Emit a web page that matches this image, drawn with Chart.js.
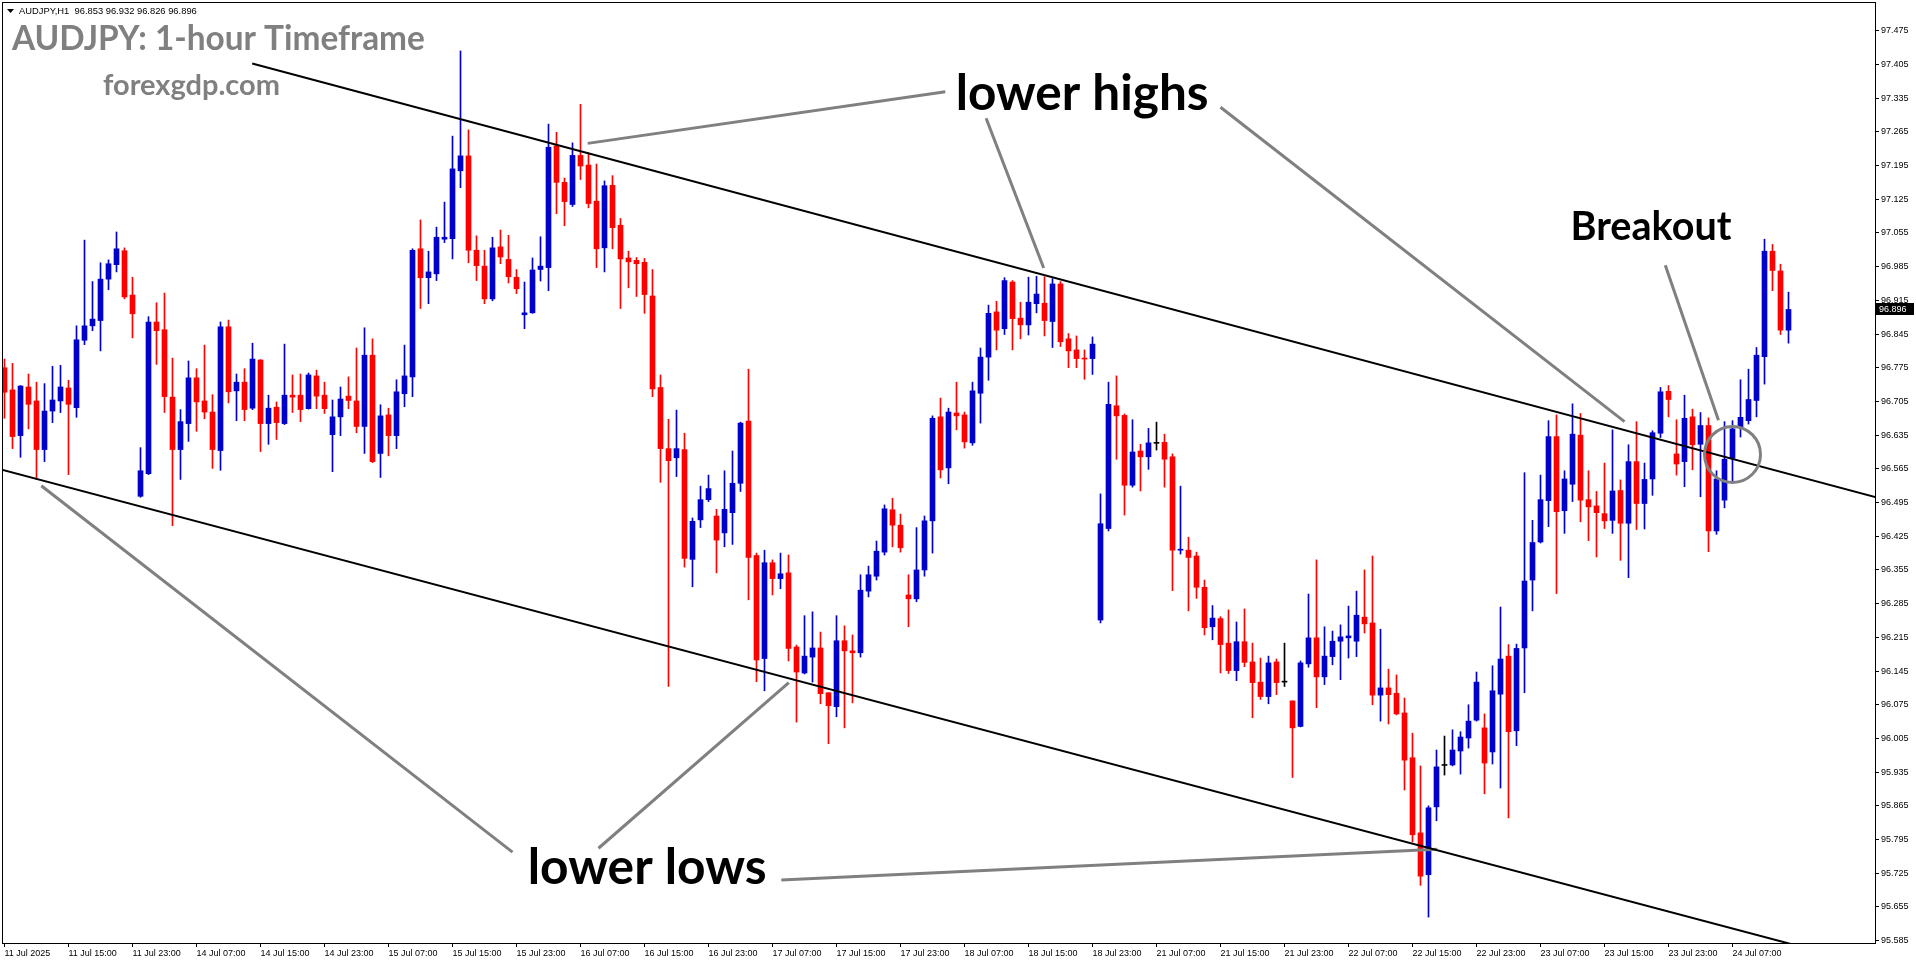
<!DOCTYPE html>
<html>
<head>
<meta charset="utf-8">
<title>AUDJPY H1</title>
<script src="https://cdn.jsdelivr.net/npm/chart.js@4.4.1/dist/chart.umd.min.js"></script>
<style>
  html, body { margin: 0; padding: 0; background: #fff; overflow: hidden; }
  #wrap { width: 1916px; height: 964px; }
</style>
</head>
<body>
<div id="wrap"><canvas id="fxChart" width="1916" height="964"></canvas></div>
<script>
// AUDJPY H1 candles, 11 Jul 07:00 -> 24 Jul 14:00 (one entry per hourly bar)

const timeLabels = [
  '11 Jul 2025', '11 Jul 15:00', '11 Jul 23:00', '14 Jul 07:00', '14 Jul 15:00', '14 Jul 23:00',
  '15 Jul 07:00', '15 Jul 15:00', '15 Jul 23:00', '16 Jul 07:00', '16 Jul 15:00', '16 Jul 23:00',
  '17 Jul 07:00', '17 Jul 15:00', '17 Jul 23:00', '18 Jul 07:00', '18 Jul 15:00', '18 Jul 23:00',
  '21 Jul 07:00', '21 Jul 15:00', '21 Jul 23:00', '22 Jul 07:00', '22 Jul 15:00', '22 Jul 23:00',
  '23 Jul 07:00', '23 Jul 15:00', '23 Jul 23:00', '24 Jul 07:00'
];
const barsPerLabel = 8;

const priceTicks = [
  97.475, 97.405, 97.335, 97.265, 97.195, 97.125, 97.055, 96.985, 96.915, 96.845,
  96.775, 96.705, 96.635, 96.565, 96.495, 96.425, 96.355, 96.285, 96.215, 96.145,
  96.075, 96.005, 95.935, 95.865, 95.795, 95.725, 95.655, 95.585
];

const opens = [
  96.775, 96.729, 96.634, 96.735, 96.706, 96.605, 96.685, 96.706, 96.733, 96.692,
  96.832, 96.862, 96.873, 96.959, 96.989, 97.018, 96.926, 96.508, 96.555, 96.870,
  96.854, 96.714, 96.605, 96.659, 96.754, 96.706, 96.683, 96.603, 96.860, 96.727,
  96.745, 96.691, 96.791, 96.659, 96.693, 96.659, 96.718, 96.718, 96.690, 96.758,
  96.718, 96.636, 96.673, 96.716, 96.706, 96.653, 96.801, 96.597, 96.677, 96.634,
  96.721, 96.756, 97.022, 96.962, 96.970, 97.042, 97.043, 97.184, 97.215, 97.019,
  96.986, 96.918, 97.026, 97.000, 96.963, 96.885, 96.889, 96.979, 96.983, 97.236,
  97.160, 97.114, 97.216, 97.196, 97.121, 97.024, 97.154, 97.071, 97.003, 96.998,
  96.994, 96.924, 96.734, 96.607, 96.588, 96.605, 96.377, 96.459, 96.501, 96.467,
  96.432, 96.474, 96.535, 96.664, 96.385, 96.171, 96.370, 96.337, 96.349, 96.195,
  96.141, 96.174, 96.193, 96.100, 96.071, 96.208, 96.187, 96.183, 96.311, 96.342,
  96.392, 96.480, 96.448, 96.303, 96.295, 96.355, 96.457, 96.673, 96.567, 96.681,
  96.677, 96.619, 96.722, 96.797, 96.891, 96.856, 96.953, 96.878, 96.864, 96.908,
  96.909, 96.871, 96.949, 96.835, 96.812, 96.795, 96.794, 96.251, 96.441, 96.696,
  96.676, 96.531, 96.602, 96.590, 96.618, 96.620, 96.590, 96.396, 96.396, 96.384,
  96.319, 96.237, 96.254, 96.203, 96.146, 96.206, 96.164, 96.122, 96.092, 96.164,
  96.122, 96.083, 96.030, 96.160, 96.214, 96.133, 96.175, 96.207, 96.214, 96.207,
  96.257, 96.245, 96.095, 96.110, 96.099, 96.058, 95.965, 95.809, 95.722, 95.863,
  95.949, 95.950, 95.979, 96.006, 96.043, 96.027, 95.977, 96.097, 96.176, 96.021,
  96.193, 96.334, 96.413, 96.499, 96.632, 96.478, 96.533, 96.635, 96.501, 96.488,
  96.472, 96.458, 96.520, 96.452, 96.580, 96.493, 96.544, 96.639, 96.726, 96.596,
  96.580, 96.673, 96.616, 96.655, 96.436, 96.500, 96.587, 96.651, 96.665, 96.707,
  96.798, 97.017, 96.976, 96.853
];

const highs = [
  96.793, 96.784, 96.738, 96.762, 96.745, 96.742, 96.778, 96.780, 96.749, 96.862,
  97.040, 96.954, 96.993, 96.999, 97.057, 97.024, 96.963, 96.609, 96.881, 96.910,
  96.930, 96.795, 96.688, 96.789, 96.773, 96.822, 96.719, 96.870, 96.874, 96.762,
  96.773, 96.826, 96.792, 96.718, 96.704, 96.824, 96.760, 96.762, 96.764, 96.770,
  96.745, 96.708, 96.735, 96.756, 96.816, 96.858, 96.835, 96.698, 96.691, 96.750,
  96.822, 97.022, 97.082, 97.017, 97.067, 97.119, 97.256, 97.433, 97.269, 97.049,
  97.019, 97.046, 97.061, 97.050, 96.979, 96.953, 97.003, 97.047, 97.281, 97.264,
  97.169, 97.242, 97.322, 97.221, 97.198, 97.163, 97.174, 97.085, 97.017, 97.004,
  97.002, 96.979, 96.760, 96.668, 96.687, 96.639, 96.463, 96.529, 96.552, 96.481,
  96.561, 96.602, 96.662, 96.772, 96.390, 96.396, 96.376, 96.390, 96.386, 96.199,
  96.260, 96.268, 96.226, 96.100, 96.260, 96.239, 96.220, 96.345, 96.363, 96.415,
  96.490, 96.504, 96.471, 96.345, 96.443, 96.467, 96.675, 96.712, 96.691, 96.745,
  96.683, 96.745, 96.816, 96.905, 96.913, 96.962, 96.956, 96.911, 96.963, 96.965,
  96.964, 96.960, 96.954, 96.846, 96.841, 96.812, 96.839, 96.513, 96.745, 96.758,
  96.679, 96.667, 96.616, 96.649, 96.662, 96.637, 96.596, 96.529, 96.423, 96.392,
  96.334, 96.281, 96.258, 96.272, 96.247, 96.274, 96.203, 96.172, 96.176, 96.170,
  96.203, 96.083, 96.166, 96.305, 96.376, 96.237, 96.228, 96.241, 96.280, 96.311,
  96.355, 96.384, 96.232, 96.149, 96.137, 96.089, 96.016, 95.948, 95.865, 95.981,
  96.010, 96.023, 96.019, 96.075, 96.143, 96.056, 96.156, 96.278, 96.200, 96.201,
  96.557, 96.458, 96.552, 96.665, 96.677, 96.561, 96.700, 96.680, 96.561, 96.518,
  96.577, 96.646, 96.542, 96.615, 96.663, 96.577, 96.644, 96.734, 96.738, 96.667,
  96.718, 96.689, 96.682, 96.671, 96.561, 96.663, 96.665, 96.750, 96.772, 96.817,
  97.042, 97.031, 96.990, 96.932
];

const lows = [
  96.670, 96.607, 96.589, 96.648, 96.543, 96.580, 96.661, 96.682, 96.553, 96.672,
  96.823, 96.852, 96.810, 96.937, 96.974, 96.918, 96.837, 96.506, 96.553, 96.782,
  96.682, 96.447, 96.543, 96.622, 96.643, 96.669, 96.566, 96.562, 96.702, 96.665,
  96.665, 96.688, 96.601, 96.616, 96.626, 96.657, 96.682, 96.663, 96.689, 96.690,
  96.680, 96.559, 96.634, 96.690, 96.640, 96.597, 96.578, 96.547, 96.592, 96.607,
  96.694, 96.715, 96.898, 96.908, 96.956, 97.035, 97.001, 97.149, 96.993, 96.956,
  96.908, 96.914, 96.991, 96.951, 96.929, 96.856, 96.888, 96.955, 96.935, 97.095,
  97.070, 97.110, 97.166, 97.107, 96.983, 96.974, 97.022, 96.898, 96.941, 96.923,
  96.888, 96.715, 96.537, 96.113, 96.549, 96.361, 96.320, 96.443, 96.497, 96.349,
  96.403, 96.408, 96.518, 96.293, 96.123, 96.104, 96.303, 96.316, 96.166, 96.039,
  96.139, 96.122, 96.077, 95.994, 96.050, 96.027, 96.079, 96.174, 96.299, 96.334,
  96.386, 96.403, 96.392, 96.237, 96.289, 96.342, 96.390, 96.546, 96.534, 96.646,
  96.608, 96.614, 96.660, 96.749, 96.812, 96.844, 96.812, 96.835, 96.843, 96.889,
  96.841, 96.817, 96.819, 96.775, 96.775, 96.751, 96.761, 96.245, 96.436, 96.585,
  96.469, 96.527, 96.519, 96.564, 96.604, 96.527, 96.312, 96.388, 96.270, 96.296,
  96.220, 96.210, 96.141, 96.140, 96.125, 96.154, 96.048, 96.086, 96.077, 96.096,
  96.113, 95.924, 96.029, 96.153, 96.069, 96.117, 96.158, 96.127, 96.172, 96.175,
  96.224, 96.075, 96.041, 96.035, 96.054, 95.898, 95.790, 95.700, 95.634, 95.834,
  95.929, 95.948, 95.931, 95.985, 96.041, 95.890, 95.952, 95.902, 95.840, 95.990,
  96.100, 96.270, 96.411, 96.445, 96.306, 96.431, 96.497, 96.455, 96.416, 96.382,
  96.441, 96.431, 96.375, 96.339, 96.439, 96.440, 96.510, 96.630, 96.673, 96.552,
  96.528, 96.563, 96.507, 96.393, 96.429, 96.484, 96.536, 96.631, 96.658, 96.673,
  96.741, 96.935, 96.844, 96.826
];

const closes = [
  96.724, 96.632, 96.737, 96.699, 96.605, 96.685, 96.708, 96.735, 96.699, 96.833,
  96.862, 96.876, 96.959, 96.991, 97.022, 96.922, 96.887, 96.561, 96.870, 96.852,
  96.715, 96.605, 96.663, 96.754, 96.704, 96.683, 96.605, 96.860, 96.725, 96.745,
  96.688, 96.793, 96.659, 96.691, 96.661, 96.718, 96.714, 96.688, 96.760, 96.716,
  96.690, 96.673, 96.710, 96.707, 96.653, 96.801, 96.580, 96.675, 96.634, 96.725,
  96.758, 97.019, 96.962, 96.974, 97.046, 97.046, 97.188, 97.215, 97.019, 96.987,
  96.918, 97.024, 97.005, 96.964, 96.939, 96.889, 96.978, 96.986, 97.233, 97.160,
  97.120, 97.216, 97.194, 97.116, 97.022, 97.153, 97.066, 97.001, 96.995, 96.991,
  96.927, 96.731, 96.607, 96.582, 96.607, 96.379, 96.456, 96.501, 96.524, 96.417,
  96.481, 96.535, 96.660, 96.381, 96.168, 96.370, 96.337, 96.347, 96.192, 96.143,
  96.176, 96.193, 96.098, 96.073, 96.208, 96.187, 96.183, 96.313, 96.345, 96.394,
  96.482, 96.448, 96.401, 96.295, 96.355, 96.457, 96.670, 96.563, 96.683, 96.675,
  96.621, 96.727, 96.797, 96.888, 96.853, 96.956, 96.877, 96.864, 96.911, 96.928,
  96.873, 96.949, 96.829, 96.810, 96.794, 96.793, 96.824, 96.451, 96.699, 96.675,
  96.531, 96.600, 96.590, 96.619, 96.618, 96.585, 96.396, 96.398, 96.381, 96.319,
  96.235, 96.255, 96.200, 96.146, 96.206, 96.163, 96.121, 96.092, 96.162, 96.121,
  96.122, 96.027, 96.162, 96.214, 96.133, 96.176, 96.207, 96.216, 96.218, 96.261,
  96.243, 96.095, 96.110, 96.096, 96.056, 95.960, 95.805, 95.719, 95.861, 95.946,
  95.949, 95.981, 96.008, 96.041, 96.122, 95.954, 96.104, 96.170, 96.019, 96.192,
  96.332, 96.412, 96.501, 96.632, 96.476, 96.544, 96.637, 96.500, 96.486, 96.474,
  96.457, 96.519, 96.452, 96.580, 96.493, 96.543, 96.640, 96.725, 96.709, 96.575,
  96.670, 96.615, 96.655, 96.436, 96.544, 96.585, 96.648, 96.672, 96.709, 96.801,
  97.017, 96.977, 96.853, 96.896
];

// ─────────────────────────────────────────────────────────────
// Drawn objects on the chart (in bar index / price units)
// ─────────────────────────────────────────────────────────────
const channelTop    = [{ x: 30.96, y: 97.407 }, { x: 233.9, y: 96.506 }];
const channelBottom = [{ x: -0.5, y: 96.564 }, { x: 234.0, y: 95.531 }];

const calloutLines = [
  [{ x: 117.6, y: 97.348 }, { x: 72.9, y: 97.241 }],   // lower highs -> first high
  [{ x: 122.7, y: 97.293 }, { x: 129.9, y: 96.982 }],  // lower highs -> second high
  [{ x: 152.0, y: 97.316 }, { x: 202.5, y: 96.663 }],  // lower highs -> third touch
  [{ x: 207.6, y: 96.988 }, { x: 214.25, y: 96.666 }], // breakout pointer
  [{ x: 4.6, y: 96.530 }, { x: 63.5, y: 95.769 }],     // lower lows -> first low
  [{ x: 74.25, y: 95.777 }, { x: 98.04, y: 96.121 }],  // lower lows -> second low
  [{ x: 97.1, y: 95.711 }, { x: 179.1, y: 95.775 }]    // lower lows -> third low
];

const notes = [
  { text: 'lower highs', x: 118.9, y: 97.310, width: 253 },
  { text: 'lower lows', x: 65.4, y: 95.702, width: 239 },
  { text: 'Breakout', x: 195.75, y: 97.040, width: 161 }
];
const breakoutRing = { x: 216.0, y: 96.595, radiusBars: 3.5 };

const UP_COLOR   = '#0000cc';
const DOWN_COLOR = '#ff0000';
const DOJI_COLOR = '#000000';
const NOTE_GRAY  = '#808080';

const candleColors = opens.map((o, i) =>
  closes[i] > o ? UP_COLOR : (closes[i] < o ? DOWN_COLOR : DOJI_COLOR));

// font size that makes text fill a given width
function fitFont(ctx, text, weight, family, width) {
  ctx.font = `${weight} 100px ${family}`;
  return 100 * width / ctx.measureText(text).width;
}

// ─────────────────────────────────────────────────────────────
// Overlay: frame, notes, ring, price tag, titles
// ─────────────────────────────────────────────────────────────
const overlayPlugin = {
  id: 'overlay',
  beforeDraw(chart) {
    const c = chart.ctx;
    c.save();
    c.fillStyle = '#fff';
    c.fillRect(0, 0, chart.width, chart.height);
    c.restore();
  },
  afterDatasetsDraw(chart) {
    const c = chart.ctx;
    const xs = chart.scales.x, ys = chart.scales.y;
    c.save();

    // breakout ring
    const cx = xs.getPixelForValue(breakoutRing.x);
    const cy = ys.getPixelForValue(breakoutRing.y);
    const r = xs.getPixelForValue(breakoutRing.x + breakoutRing.radiusBars) - cx;
    c.strokeStyle = NOTE_GRAY;
    c.lineWidth = 3;
    c.beginPath();
    c.arc(cx, cy, r, 0, Math.PI * 2);
    c.stroke();

    // annotation words
    c.fillStyle = '#000';
    c.textBaseline = 'alphabetic';
    c.textAlign = 'left';
    notes.forEach(n => {
      const size = fitFont(c, n.text, 'bold', 'Lato', n.width);
      c.font = `bold ${size}px Lato`;
      c.fillText(n.text, xs.getPixelForValue(n.x), ys.getPixelForValue(n.y));
    });
    c.restore();
  },
  afterDraw(chart) {
    const c = chart.ctx;
    const a = chart.chartArea;
    const ys = chart.scales.y;
    c.save();

    // chart frame
    c.strokeStyle = '#000';
    c.lineWidth = 1;
    c.strokeRect(a.left + 0.5, a.top + 0.5, a.right - a.left, a.bottom - a.top);

    // last price tag on the axis
    const last = closes[closes.length - 1];
    const py = Math.round(ys.getPixelForValue(last));
    c.fillStyle = '#000';
    c.fillRect(a.right + 1, py - 6, 38, 12);
    c.fillStyle = '#fff';
    c.font = '9px "Liberation Sans"';
    c.textBaseline = 'middle';
    c.fillText(last.toFixed(3), a.right + 4, py + 0.5);

    // symbol line at top-left
    const n = opens.length - 1;
    const head = `AUDJPY,H1  ${opens[n].toFixed(3)} ${highs[n].toFixed(3)} ${lows[n].toFixed(3)} ${closes[n].toFixed(3)}`;
    c.fillStyle = '#000';
    c.beginPath();
    c.moveTo(7, 9); c.lineTo(14, 9); c.lineTo(10.5, 13); c.closePath();
    c.fill();
    c.font = `${fitFont(c, head, 'normal', '"Liberation Sans"', 178)}px "Liberation Sans"`;
    c.textBaseline = 'middle';
    c.fillText(head, 19, 11.5);

    // gray titles
    c.fillStyle = NOTE_GRAY;
    c.textBaseline = 'alphabetic';
    const t1 = 'AUDJPY: 1-hour Timeframe';
    c.font = `bold ${fitFont(c, t1, 'bold', 'Lato', 413)}px Lato`;
    c.fillText(t1, 12, 50);
    const t2 = 'forexgdp.com';
    c.font = `bold ${fitFont(c, t2, 'bold', 'Lato', 177)}px Lato`;
    c.fillText(t2, 103, 95);
    c.restore();
  }
};

// ─────────────────────────────────────────────────────────────
// Datasets
// ─────────────────────────────────────────────────────────────
const lineSet = (points, color, width) => ({
  type: 'line',
  data: points,
  borderColor: color,
  borderWidth: width,
  pointRadius: 0,
  fill: false,
  tension: 0,
  order: 0
});

const datasets = [
  lineSet(channelTop, '#000', 2),
  lineSet(channelBottom, '#000', 2),
  ...calloutLines.map(pts => lineSet(pts, NOTE_GRAY, 3)),
  {
    type: 'bar',
    label: 'body',
    data: opens.map((o, i) => ({ x: i, y: [o, closes[i]] })),
    backgroundColor: candleColors,
    barThickness: 5,
    minBarLength: 1,
    grouped: false,
    borderWidth: 0,
    order: 1
  },
  {
    type: 'bar',
    label: 'wick',
    data: highs.map((h, i) => ({ x: i, y: [lows[i], h] })),
    backgroundColor: candleColors,
    barThickness: 1,
    grouped: false,
    borderWidth: 0,
    order: 2
  }
];

const axisFont = { family: 'Liberation Sans', size: 9 };

new Chart(document.getElementById('fxChart'), {
  type: 'bar',
  data: { datasets },
  options: {
    responsive: false,
    devicePixelRatio: 1,
    animation: false,
    events: [],
    layout: { padding: { left: 2, top: 2, right: 0, bottom: 0 } },
    plugins: { legend: { display: false }, tooltip: { enabled: false } },
    scales: {
      x: {
        type: 'linear',
        min: -0.3125,
        max: 233.8125,
        offset: false,
        grid: { drawOnChartArea: false, drawTicks: true, tickLength: 4, color: '#000', offset: false },
        border: { display: true, color: '#000', width: 1 },
        ticks: {
          autoSkip: false,
          maxRotation: 0,
          minRotation: 0,
          align: 'start',
          padding: 1,
          color: '#000',
          font: axisFont,
          callback: (v, idx) => timeLabels[idx]
        },
        afterBuildTicks: s => { s.ticks = timeLabels.map((_, k) => ({ value: k * barsPerLabel })); },
        afterFit: s => { s.height = 21; s.paddingLeft = 0; s.paddingRight = 0; }
      },
      y: {
        position: 'right',
        min: 95.5802,
        max: 97.5346,
        grid: { drawOnChartArea: false, drawTicks: true, tickLength: 4, color: '#000' },
        border: { display: true, color: '#000', width: 1 },
        ticks: {
          padding: 2,
          color: '#000',
          font: axisFont,
          callback: v => v.toFixed(3)
        },
        afterBuildTicks: s => { s.ticks = priceTicks.map(v => ({ value: v })); },
        afterFit: s => { s.width = 41; s.paddingTop = 0; s.paddingBottom = 0; }
      }
    }
  },
  plugins: [overlayPlugin]
});
</script>
</body>
</html>
